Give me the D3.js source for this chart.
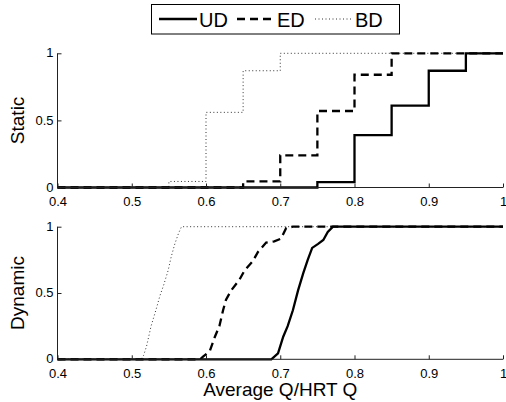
<!DOCTYPE html>
<html>
<head>
<meta charset="utf-8">
<script src="https://cdn.jsdelivr.net/npm/d3@7"></script>
<style>
  body { margin: 0; background: #fff; }
  svg { display: block; font-family: "Liberation Sans", Arial, sans-serif; }
</style>
</head>
<body>
<svg id="chart" width="506" height="402"></svg>
<script>
// ticks
const xTicks = [0.4, 0.5, 0.6, 0.7, 0.8, 0.9, 1];
const yTicks = [0, 0.5, 1];
const seriesNames = ['UD', 'ED', 'BD'];

// static panel: stair CDFs
const staticUDx = [0.4, 0.75, 0.8, 0.85, 0.9, 0.95, 1];
const staticUDy = [0, 0.04, 0.39, 0.61, 0.87, 1, 1];
const staticEDx = [0.4, 0.65, 0.7, 0.75, 0.8, 0.85, 1];
const staticEDy = [0, 0.045, 0.24, 0.57, 0.84, 1, 1];
const staticBDx = [0.4, 0.55, 0.6, 0.65, 0.7, 1];
const staticBDy = [0, 0.045, 0.56, 0.87, 1, 1];

// dynamic panel: empirical CDFs
const dynUDx = [0.4, 0.688, 0.697, 0.704, 0.710, 0.717, 0.724, 0.731, 0.737, 0.743, 0.751, 0.758, 0.764, 0.771, 1];
const dynUDy = [0, 0, 0.045, 0.17, 0.25, 0.37, 0.52, 0.65, 0.75, 0.84, 0.87, 0.9, 0.96, 1, 1];
const dynEDx = [0.4, 0.592, 0.596, 0.605, 0.612, 0.618, 0.623, 0.627, 0.634, 0.645, 0.652, 0.663, 0.670, 0.681, 0.692, 0.701, 0.708, 0.717, 1];
const dynEDy = [0, 0, 0.02, 0.06, 0.17, 0.25, 0.37, 0.45, 0.52, 0.6, 0.67, 0.74, 0.81, 0.88, 0.89, 0.91, 0.99, 1, 1];
const dynBDx = [0.4, 0.512, 0.516, 0.52, 0.526, 0.533, 0.538, 0.543, 0.549, 0.553, 0.558, 0.563, 0.567, 1];
const dynBDy = [0, 0, 0.03, 0.1, 0.25, 0.38, 0.48, 0.56, 0.67, 0.77, 0.87, 0.95, 1, 1];

const styles = {
  UD: { width: 2.3, dash: null, color: '#000' },
  ED: { width: 2.3, dash: '8,5', color: '#000' },
  BD: { width: 1, dash: '1,2.5', color: '#333' }
};

const svg = d3.select('#chart');
const left = 57.5, right = 503;
const x = d3.scaleLinear().domain([0.4, 1]).range([left, right]);

const zip = (xs, ys) => xs.map((v, i) => [v, ys[i]]);

function panel(top, bottom, label, lines, curve) {
  const y = d3.scaleLinear().domain([0, 1]).range([bottom, top]);
  const g = svg.append('g');

  const line = d3.line().x(d => x(d[0])).y(d => y(d[1])).curve(curve);
  // draw BD, ED, UD so solid is on top
  ['BD', 'ED', 'UD'].forEach(name => {
    const s = styles[name];
    g.append('path')
      .datum(lines[name])
      .attr('d', line)
      .attr('fill', 'none')
      .attr('stroke', s.color)
      .attr('stroke-width', s.width)
      .attr('stroke-dasharray', s.dash);
  });

  const xAxis = d3.axisBottom(x).tickValues(xTicks).tickSize(-4).tickPadding(9)
    .tickFormat(d => d === 1 ? '1' : d3.format('.1f')(d));
  const gx = g.append('g').attr('transform', `translate(0,${bottom})`).call(xAxis);
  const yAxis = d3.axisLeft(y).tickValues(yTicks).tickSize(-4).tickPadding(4)
    .tickFormat(d => d === 0.5 ? '0.5' : String(d));
  const gy = g.append('g').attr('transform', `translate(${left},0)`).call(yAxis);

  [gx, gy].forEach(a => {
    a.select('.domain').attr('stroke', '#222').attr('stroke-width', 1);
    a.selectAll('.tick line').attr('stroke', '#222');
    a.selectAll('.tick text').attr('font-size', 13).attr('fill', '#000')
      .attr('font-family', '"Liberation Sans", Arial, sans-serif');
  });
  gy.selectAll('.tick text').attr('dy', '0.28em');
  gx.select('.domain').attr('d', `M${left},0H${right}`);
  gy.select('.domain').attr('d', `M0,${bottom}V${top}`);

  g.append('text')
    .attr('transform', `translate(24,${(top + bottom) / 2}) rotate(-90)`)
    .attr('text-anchor', 'middle')
    .attr('font-size', 19)
    .text(label);
}

panel(53.3, 187.5, 'Static', {
  UD: zip(staticUDx, staticUDy),
  ED: zip(staticEDx, staticEDy),
  BD: zip(staticBDx, staticBDy)
}, d3.curveStepAfter);

panel(226.7, 359.3, 'Dynamic', {
  UD: zip(dynUDx, dynUDy),
  ED: zip(dynEDx, dynEDy),
  BD: zip(dynBDx, dynBDy)
}, d3.curveLinear);

svg.append('text')
  .attr('x', (left + right) / 2)
  .attr('y', 396)
  .attr('text-anchor', 'middle')
  .attr('font-size', 19)
  .text('Average Q/HRT Q');

// legend
const lg = svg.append('g');
lg.append('rect')
  .attr('x', 151.5).attr('y', 4.5).attr('width', 248).attr('height', 29.5)
  .attr('fill', '#fff').attr('stroke', '#000').attr('stroke-width', 1);
const legendPos = [159, 237, 315];
seriesNames.forEach((name, i) => {
  const s = styles[name];
  const x0 = legendPos[i];
  lg.append('line')
    .attr('x1', x0).attr('x2', x0 + 38).attr('y1', 19).attr('y2', 19)
    .attr('stroke', s.color).attr('stroke-width', s.width)
    .attr('stroke-dasharray', s.dash);
  lg.append('text')
    .attr('x', x0 + 40).attr('y', 26.5)
    .attr('font-size', 20)
    .text(name);
});
</script>
</body>
</html>
